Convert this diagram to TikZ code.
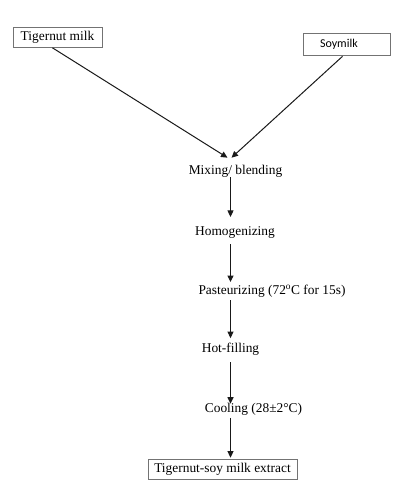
\documentclass[tikz,border=0pt]{standalone}
\usepackage{fontspec}
\setmainfont{Liberation Serif}
\newfontfamily\soyfont{Carlito}
\usetikzlibrary{arrows.meta,positioning,calc}

\begin{document}
\begin{tikzpicture}[x=1pt,y=-1pt,
   stage/.style={font=\fontsize{13.4}{15}\selectfont,inner sep=0pt},
   srcbox/.style={draw=black!55,line width=0.7pt,inner sep=0pt,minimum height=20pt},
   flow/.style={-{Triangle[length=6.5pt,width=6pt]},line width=1pt,black!90}]
  \useasboundingbox (0,0) rectangle (400,495);
  % sources
  \node[srcbox,stage,minimum width=89pt] (tiger) at (57.5,37.5) {Tigernut milk};
  \node[srcbox,font=\soyfont\fontsize{12}{14}\selectfont,minimum width=87pt,minimum height=22pt,
        text width=53pt,align=left] (soy) at (346.5,44) {Soymilk};
  % process steps
  \node[stage] (mix)   at (235.5,171) {Mixing/ blending};
  \node[stage] (homog) at (235,233)   {Homogenizing};
  \node[stage] (past)  at (272,291)   {Pasteurizing (72\textsuperscript{o}C for 15s)};
  \node[stage] (hot)   at (230.5,349) {Hot-filling};
  \node[stage] (cool)  at (253.5,409) {Cooling (28±2°C)};
  \node[srcbox,stage,minimum width=149pt] (final) at (222.5,469) {Tigernut-soy milk extract};
  % merging arrows
  \coordinate (join) at ($(mix.north)+(-6,-7)$);
  \coordinate (spine) at (230.5,0);
  \draw[flow] ($(tiger.south)+(-5,0)$) -- ($(join)+(-2,0)$);
  \draw[flow] ($(soy.south)+(-4,1)$) -- ($(join)+(2,0)$);
  % vertical flow
  \foreach \a/\b/\s/\e in {mix/homog/0/10,homog/past/5/2.5,past/hot/3/4.5,
                           hot/cool/7/-1,cool/final/2.5/1}{
    \draw[flow,shorten <=\s pt,shorten >=\e pt] (\a.south -| spine) -- (\b.north -| spine);
  }
\end{tikzpicture}
\end{document}
